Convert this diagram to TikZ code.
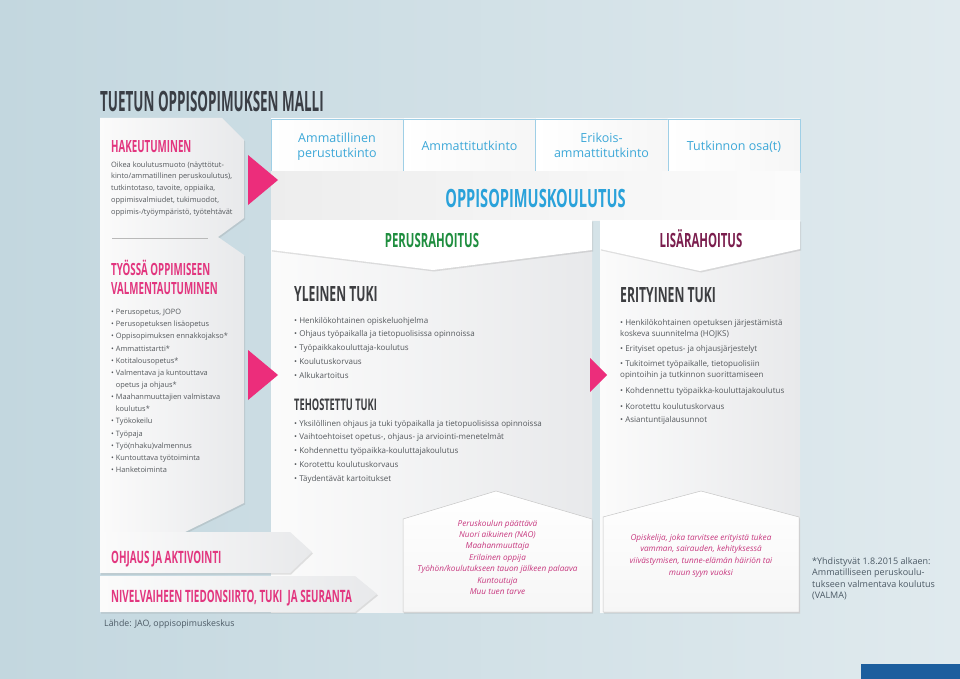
\documentclass[tikz,border=0pt]{standalone}
\usepackage{fontspec}
\setmainfont{Open Sans}
\newfontfamily\headfont{Open Sans}[FakeStretch=0.58]
\newfontfamily\titlefont{Open Sans}[FakeStretch=0.48]
\usetikzlibrary{shadows}

\definecolor{bgleft}{HTML}{C3D7DF}
\definecolor{bgright}{HTML}{E0EAEE}
\definecolor{malliblue}{HTML}{1C5E9E}
\definecolor{titlegray}{HTML}{3A3E45}
\definecolor{headpink}{HTML}{E2367F}
\definecolor{arrowpink}{HTML}{EC2D7B}
\definecolor{italicpink}{HTML}{C7387F}
\definecolor{cellblue}{HTML}{3DA8D8}
\definecolor{bandblue}{HTML}{2AA2DA}
\definecolor{cellline}{HTML}{9FCFE6}
\definecolor{rahgreen}{HTML}{1F8E3F}
\definecolor{rahmaroon}{HTML}{7B1E4E}
\definecolor{tukigray}{HTML}{3D3E41}
\definecolor{bodygray}{HTML}{54585C}
\definecolor{notegray}{HTML}{4C5A65}
\definecolor{panellight}{HTML}{FBFBFB}
\definecolor{paneldark}{HTML}{E8E9EB}

\newcommand\headsz[1]{\fontsize{#1}{#1}\headfont\bfseries}
\newcommand\titlesz[1]{\fontsize{#1}{#1}\titlefont\bfseries}

% multi-line nodes are placed at the baseline of their last line
\tikzset{
  softshadow/.style={drop shadow={opacity=0.22, shadow xshift=1pt, shadow yshift=-1.5pt}},
  panel/.style={left color=panellight, right color=paneldark, softshadow},
  house/.style={top color=white, bottom color=gray!7, draw=gray!45, line width=0.5pt, softshadow},
  heading/.style={anchor=base west, inner sep=0pt},
  body/.style={anchor=base west, align=left, inner sep=0pt, text=bodygray},
  celltext/.style={anchor=base, align=center, inner sep=0pt, text=cellblue,
    font=\fontsize{12.5}{14.5}\selectfont},
  italictext/.style={anchor=base, align=center, inner sep=0pt, text=italicpink},
}

\begin{document}
\begin{tikzpicture}[x=1pt, y=-1pt, line join=round]

	% Canvas and margins
	\shade[left color=bgleft, right color=bgright] (0,0) rectangle (960,679);
	\useasboundingbox (0,0) rectangle (960,679);
	\fill[malliblue] (861,664) rectangle (960,679);

	% Title
	\node[heading, font=\titlesz{28}, text=titlegray] (title) at (100,112) {TUETUN OPPISOPIMUKSEN MALLI};

	% Degree header cells
	\foreach \x in {271,403.25,535.5,667.75} {
		\shade[left color=white, right color=gray!7, draw=cellline] (\x,119) rectangle ++(132.25,53);
	}
	\node[celltext] (perus) at (337,157.5) {Ammatillinen\\perustutkinto};
	\node[celltext] (ammatti) at (469.5,151) {Ammattitutkinto};
	\node[celltext] (erikois) at (601.5,157.5) {Erikois-\\ammattitutkinto};
	\node[celltext] (osat) at (734,151) {Tutkinnon osa(t)};

	% Apprenticeship band
	\shade[left color=gray!14, right color=gray!3] (271,172) rectangle (800,220);
	\node[heading, anchor=base, font=\headsz{25.2}, text=bandblue] (koulutus) at (535.5,207) {OPPISOPIMUSKOULUTUS};

	% Funding columns
	\shade[left color=panellight, right color=paneldark] (271,220) rectangle (592,612);
	\shade[left color=panellight, right color=paneldark] (600,220) rectangle (800,612);
	\path[fill=white, softshadow] (271,220) -- (592,220) -- (592,250) -- (433,270) -- (271,250) -- cycle;
	\path[fill=white, softshadow] (600,220) -- (800,220) -- (800,249) -- (700,271) -- (600,249) -- cycle;
	\node[heading, anchor=base, font=\headsz{19.6}, text=rahgreen] (perusraha) at (432,247) {PERUSRAHOITUS};
	\node[heading, anchor=base, font=\headsz{19.6}, text=rahmaroon] (lisaraha) at (701,247) {LISÄRAHOITUS};

	% Target group boxes
	\path[house] (403,519) -- (496,491) -- (592,519) -- (592,612) -- (403,612) -- cycle;
	\path[house] (603,517) -- (701,491) -- (799,517) -- (799,612) -- (603,612) -- cycle;

	% Left column
	\path[panel] (100,118) -- (222,118) -- (244,140) -- (244,218) -- (218,237) -- (244,255)
		-- (244,503) -- (185,532) -- (100,532) -- cycle;
	\draw[gray!55, line width=0.6pt] (112,238) -- (208,238);

	% Pink arrows
	\fill[arrowpink] (248,155) -- (278,180) -- (248,205) -- cycle;
	\fill[arrowpink] (248,350) -- (278,375) -- (248,400) -- cycle;
	\fill[arrowpink] (590,358) -- (607,375) -- (590,392) -- cycle;

	% Bottom arrow boxes
	\path[panel] (100,532) -- (290,532) -- (312,552) -- (290,573) -- (100,573) -- cycle;
	\path[panel] (100,576) -- (355,576) -- (377,594) -- (355,612) -- (100,612) -- cycle;

	% Left column texts
	\node[heading, font=\headsz{16.8}, text=headpink] (hakeu) at (111,153) {HAKEUTUMINEN};
	\node[body, font=\fontsize{7.4}{11.8}\selectfont] (hakeutext) at (111,214.2)
		{Oikea koulutusmuoto (näyttötut-\\kinto/ammatillinen peruskoulutus),\\tutkintotaso, tavoite, oppiaika,\\oppimisvalmiudet, tukimuodot,\\oppimis-/työympäristö, työtehtävät};
	\node[heading, align=left, font=\fontsize{16.8}{19}\headfont\bfseries, text=headpink] (valm) at (111,294)
		{TYÖSSÄ OPPIMISEEN\\VALMENTAUTUMINEN};
	\node[body, font=\fontsize{7.4}{12.15}\selectfont] (valmlist) at (111,472.5)
		{• Perusopetus, JOPO\\• Perusopetuksen lisäopetus\\• Oppisopimuksen ennakkojakso*\\• Ammattistartti*\\• Kotitalousopetus*\\• Valmentava ja kuntouttava\\\hphantom{• }opetus ja ohjaus*\\• Maahanmuuttajien valmistava\\\hphantom{• }koulutus*\\• Työkokeilu\\• Työpaja\\• Työ(nhaku)valmennus\\• Kuntouttava työtoiminta\\• Hanketoiminta};

	% General and enhanced support
	\node[heading, font=\headsz{21}, text=tukigray] (yleinen) at (294,301) {YLEINEN TUKI};
	\node[body, font=\fontsize{8}{13.8}\selectfont] (yleinenlist) at (294,378.2)
		{• Henkilökohtainen opiskeluohjelma\\• Ohjaus työpaikalla ja tietopuolisissa opinnoissa\\• Työpaikkakouluttaja-koulutus\\• Koulutuskorvaus\\• Alkukartoitus};
	\node[heading, font=\headsz{16}, text=tukigray] (tehostettu) at (294,410) {TEHOSTETTU TUKI};
	\node[body, font=\fontsize{8}{13.75}\selectfont] (tehostettulist) at (294,481)
		{• Yksilöllinen ohjaus ja tuki työpaikalla ja tietopuolisissa opinnoissa\\• Vaihtoehtoiset opetus-, ohjaus- ja arviointi-menetelmät\\• Kohdennettu työpaikka-kouluttajakoulutus\\• Korotettu koulutuskorvaus\\• Täydentävät kartoitukset};

	% Special support
	\node[heading, font=\headsz{21}, text=tukigray] (erityinen) at (620,302) {ERITYINEN TUKI};
	\node[body, font=\fontsize{8}{11}\selectfont] (erityinenlist) at (620,422)
		{• Henkilökohtainen opetuksen järjestämistä\\koskeva suunnitelma (HOJKS)\\[4pt]• Erityiset opetus- ja ohjausjärjestelyt\\[4pt]• Tukitoimet työpaikalle, tietopuolisiin\\opintoihin ja tutkinnon suorittamiseen\\[5pt]• Kohdennettu työpaikka-kouluttajakoulutus\\[5pt]• Korotettu koulutuskorvaus\\[2pt]• Asiantuntijalausunnot};

	% Target groups
	\node[italictext, font=\fontsize{8.2}{11.4}\selectfont\itshape] (perusgroup) at (497.5,594.4)
		{Peruskoulun päättävä\\Nuori aikuinen (NAO)\\Maahanmuuttaja\\Erilainen oppija\\Työhön/koulutukseen tauon jälkeen palaava\\Kuntoutuja\\Muu tuen tarve};
	\node[italictext, font=\fontsize{8.2}{11.8}\selectfont\itshape] (erityisgroup) at (701,575.4)
		{Opiskelija, joka tarvitsee erityistä tukea\\vamman, sairauden, kehityksessä\\viivästymisen, tunne-elämän häiriön tai\\muun syyn vuoksi};

	% Arrow box texts
	\node[heading, font=\headsz{17}, text=headpink] (ohjaus) at (111,563) {OHJAUS JA AKTIVOINTI};
	\node[heading, font=\headsz{17}, text=headpink] (nivel) at (111,602) {NIVELVAIHEEN TIEDONSIIRTO, TUKI\ \ JA SEURANTA};

	% Notes
	\node[body, font=\fontsize{8.8}{10}\selectfont, text=notegray] (lahde) at (104,626) {Lähde: JAO, oppisopimuskeskus};
	\node[body, font=\fontsize{9}{11.5}\selectfont, text=notegray] (valmanote) at (812,598.5)
		{*Yhdistyvät 1.8.2015 alkaen:\\Ammatilliseen peruskoulu-\\tukseen valmentava koulutus\\(VALMA)};

\end{tikzpicture}
\end{document}
